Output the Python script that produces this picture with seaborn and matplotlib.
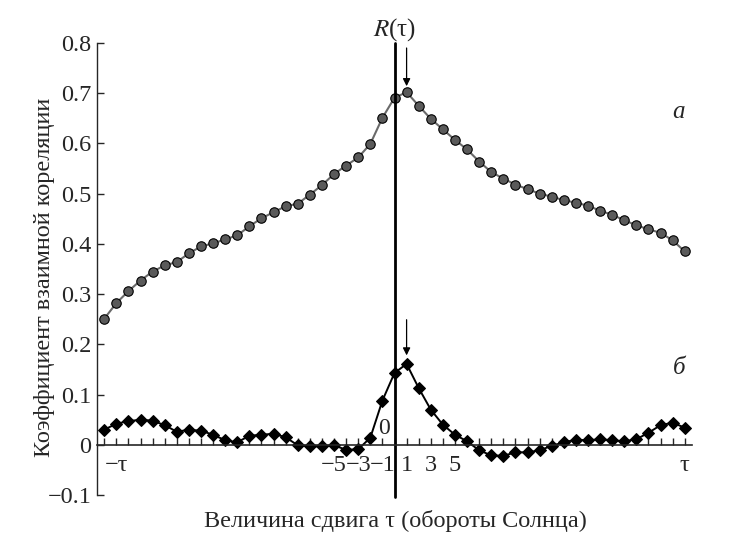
import matplotlib
matplotlib.use("Agg")
import matplotlib.pyplot as plt
import seaborn as sns
import numpy as np

# сдвиг τ (обороты Солнца)
shift = list(range(-24, 25))

# кривая a
corr_a = [0.251, 0.282, 0.306, 0.327, 0.345, 0.357, 0.364, 0.381, 0.395, 0.401,
          0.409, 0.417, 0.435, 0.451, 0.463, 0.475, 0.480, 0.498, 0.517, 0.539,
          0.556, 0.572, 0.599, 0.651, 0.691, 0.702, 0.675, 0.649, 0.628, 0.607,
          0.588, 0.564, 0.543, 0.530, 0.518, 0.509, 0.500, 0.494, 0.487, 0.482,
          0.476, 0.466, 0.458, 0.447, 0.437, 0.429, 0.422, 0.407, 0.385]

# кривая б
corr_b = [0.030, 0.042, 0.047, 0.050, 0.048, 0.039, 0.026, 0.030, 0.028, 0.020,
          0.009, 0.005, 0.018, 0.020, 0.022, 0.015, -0.001, -0.003, -0.003, -0.001,
          -0.010, -0.009, 0.014, 0.088, 0.143, 0.161, 0.113, 0.070, 0.040, 0.020,
          0.007, -0.011, -0.021, -0.022, -0.015, -0.015, -0.011, -0.002, 0.005, 0.010,
          0.009, 0.011, 0.009, 0.007, 0.011, 0.024, 0.039, 0.044, 0.034]

y_ticks = [-0.1, 0, 0.1, 0.2, 0.3, 0.4, 0.5, 0.6, 0.7, 0.8]
y_labels = ["\u22120.1", "0", "0.1", "0.2", "0.3", "0.4", "0.5", "0.6", "0.7", "0.8"]
x_labels = {-23: "\u2212\u03c4", -5: "\u22125", -3: "\u22123", -1: "\u22121",
            1: "1", 3: "3", 5: "5", 24: "\u03c4"}

sns.set_style("ticks")
plt.rcParams["font.family"] = ["Liberation Serif", "DejaVu Serif"]
plt.rcParams["mathtext.fontset"] = "stix"

fig = plt.figure(figsize=(7.5, 5.4), dpi=100)
ax = fig.add_axes([0.1293, 0.0833, 0.7934, 0.8371])

sns.lineplot(x=shift, y=corr_a, ax=ax, color="#6a6a6a", linewidth=1.5,
             marker="o", markersize=6.8, markerfacecolor="#5a5a5a",
             markeredgecolor="black", markeredgewidth=0.8)
sns.lineplot(x=shift, y=corr_b, ax=ax, color="black", linewidth=1.4,
             marker="D", markersize=5.8, markerfacecolor="black",
             markeredgecolor="black")

ax.set_xlim(-24.6, 24.6)
ax.set_ylim(-0.1, 0.8)

ax.spines["top"].set_visible(False)
ax.spines["right"].set_visible(False)
ax.spines["bottom"].set_position(("data", 0))
ax.spines["left"].set_linewidth(1.0)
ax.spines["bottom"].set_linewidth(1.2)

ax.set_yticks(y_ticks)
ax.set_yticklabels(y_labels)
ax.set_xticks(shift)
ax.set_xticklabels([x_labels.get(s, "") for s in shift])
ax.tick_params(axis="y", direction="in", length=5, width=1.0, labelsize=17.5, pad=4)
ax.tick_params(axis="x", direction="in", length=5, width=1.0, labelsize=17.5, pad=7)

# вертикальная линия τ = 0
ax.plot([0, 0], [-0.104, 0.8], color="black", linewidth=2.0, clip_on=False)
ax.text(0, 0.826, "$R$(\u03c4)", ha="center", va="center", fontsize=18)
ax.text(-0.9, 0.032, "0", ha="center", va="center", fontsize=17)

# стрелки на максимумы
ax.annotate("", xy=(1, 0.714), xytext=(1, 0.79),
            arrowprops=dict(arrowstyle="-|>", color="black", lw=0.9,
                            mutation_scale=11, shrinkA=0, shrinkB=0))
ax.annotate("", xy=(1, 0.178), xytext=(1, 0.249),
            arrowprops=dict(arrowstyle="-|>", color="black", lw=0.9,
                            mutation_scale=11, shrinkA=0, shrinkB=0))

ax.text(23.5, 0.662, "a", style="italic", ha="center", va="center", fontsize=18)
ax.text(23.5, 0.153, "\u0431", style="italic", ha="center", va="center", fontsize=18)

ax.set_ylabel("Коэффициент взаимной кореляции", fontsize=17.5)
ax.set_xlabel("Величина сдвига \u03c4 (обороты Солнца)", fontsize=17.5)
ax.yaxis.set_label_coords(-0.07, 0.481)
ax.xaxis.set_label_coords(0.502, -0.033)

fig.savefig("out.png", dpi=100)
